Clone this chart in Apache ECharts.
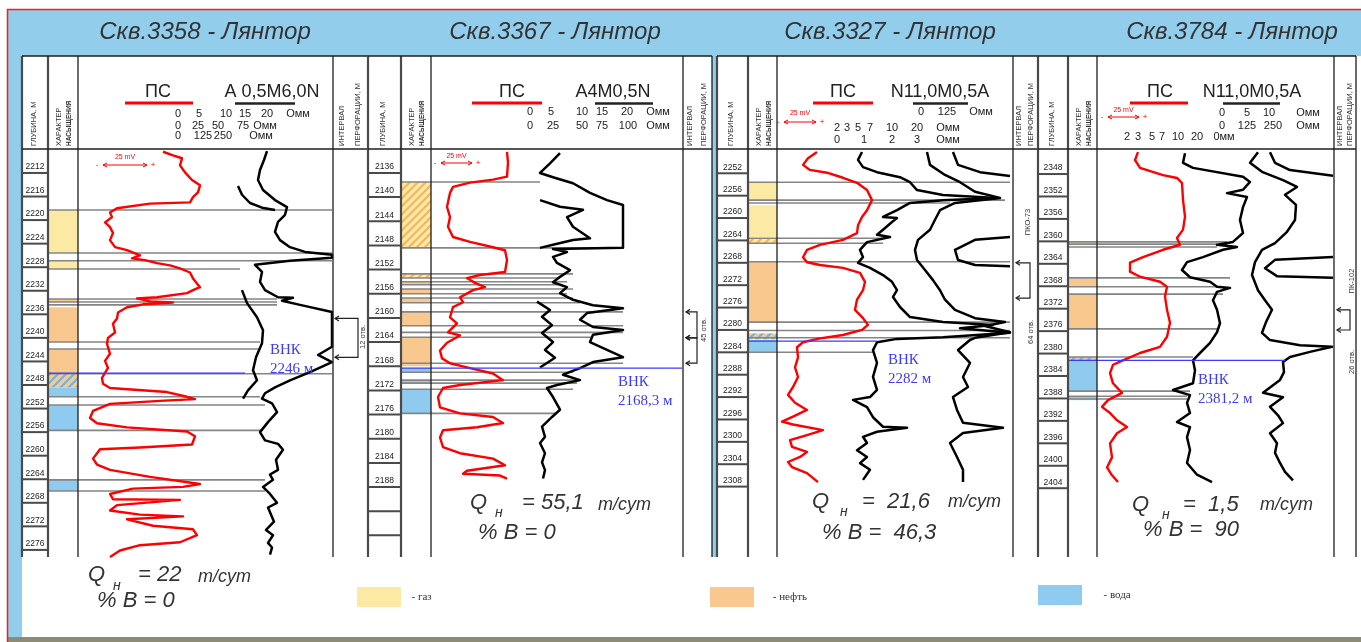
<!DOCTYPE html>
<html lang="ru">
<head>
<meta charset="utf-8">
<title>Лянтор — сопоставление скважин</title>
<script src="https://cdn.jsdelivr.net/npm/echarts@6.0.0/dist/echarts.min.js"></script>
<style>
html,body{margin:0;padding:0;background:#fff;}
#chart{width:1361px;height:642px;}
</style>
</head>
<body>
<div id="chart"></div>
<script>
// ===================== DATA =====================
const wellTitles = ['Скв.3358 - Лянтор', 'Скв.3367 - Лянтор', 'Скв.3327 - Лянтор', 'Скв.3784 - Лянтор'];
const probeNames = ['A 0,5M6,0N', 'A4M0,5N', 'N11,0M0,5A', 'N11,0M0,5A'];

// header scale labels of the resistivity probes
const scaleLabels3358 = [['0','5','10','15','20','Омм'], ['0','25','50','75','Омм'], ['0','125','250','Омм']];
const scaleLabels3367 = [['0','5','10','15','20','Омм'], ['0','25','50','75','100','Омм']];
const scaleLabels3327 = [['0','125','Омм'], ['2','3','5','7','10','20','Омм'], ['0','1','2','3','Омм']];
const scaleLabels3784 = [['0','5','10','Омм'], ['0','125','250','Омм'], ['2','3','5','7','10','20','0мм']];

// depth ticks, m
const depthTicks3358 = [2212,2216,2220,2224,2228,2232,2236,2240,2244,2248,2252,2256,2260,2264,2268,2272,2276];
const depthLabels3358 = ['2212','2216','2220','2224','2228','2232','2236','2240','2244','2248','2252','2256','2260','2264','2268','2272','2276'];
const depthTicks3367 = [2136,2140,2144,2148,2152,2156,2160,2164,2168,2172,2176,2180,2184,2188,2192,2196];
const depthLabels3367 = ['2136','2140','2144','2148','2152','2156','2160','2164','2168','2172','2176','2180','2184','2188','',''];
const depthTicks3327 = [2252,2256,2260,2264,2268,2272,2276,2280,2284,2288,2292,2296,2300,2304,2308];
const depthLabels3327 = ['2252','2256','2260','2264','2268','2272','2276','2280','2284','2288','2292','2296','2300','2304','2308'];
const depthTicks3784 = [2348,2352,2356,2360,2364,2368,2372,2376,2380,2384,2388,2392,2396,2400,2404];
const depthLabels3784 = ['2348','2352','2356','2360','2364','2368','2372','2376','2380','2384','2388','2392','2396','2400','2404'];

// ПС curves: [mV from track edge, depth m]
const ps3358 = [[85,2208.4],[95,2209.0],[104,2209.5],[102,2210.7],[107,2211.9],[114,2213.2],[122,2214.1],[120,2215.3],[115,2216.1],[112,2217.0],[72,2217.2],[39,2218.0],[32,2218.7],[34,2219.5],[27,2220.4],[32,2221.2],[35,2222.2],[32,2223.4],[37,2224.6],[49,2225.1],[62,2226.0],[54,2226.5],[67,2226.8],[79,2227.3],[92,2227.7],[102,2228.2],[112,2228.9],[115,2229.9],[122,2231.4],[115,2231.9],[109,2232.4],[79,2233.1],[59,2233.3],[72,2233.8],[95,2234.0],[65,2234.3],[49,2234.8],[40,2235.7],[39,2236.7],[35,2237.6],[37,2239.1],[30,2240.0],[29,2241.0],[32,2242.7],[27,2243.9],[30,2245.1],[24,2246.8],[25,2247.8],[32,2248.5],[89,2249.2],[109,2250.0],[117,2250.4],[82,2250.7],[32,2251.2],[15,2252.4],[12,2253.6],[19,2254.5],[49,2255.2],[109,2255.9],[117,2256.7],[114,2258.1],[62,2258.6],[22,2258.9],[15,2260.5],[19,2261.5],[32,2262.4],[72,2263.6],[122,2264.8],[105,2265.3],[55,2265.6],[32,2266.5],[35,2267.4],[102,2267.5],[39,2268.4],[32,2269.3],[62,2270.0],[105,2270.3],[49,2270.8],[75,2271.9],[115,2272.5],[119,2273.5],[102,2274.7],[62,2275.2],[42,2276.1],[32,2277.2]];
const ps3367 = [[76,2132.5],[77,2134.3],[76,2136.6],[62,2137.1],[39,2137.6],[22,2138.3],[19,2139.3],[16,2141.6],[19,2143.3],[17,2144.9],[22,2146.6],[39,2147.4],[62,2148.3],[74,2148.8],[76,2150.4],[74,2152.4],[49,2152.9],[36,2153.4],[44,2154.2],[54,2154.9],[42,2155.4],[29,2156.6],[32,2157.4],[22,2158.2],[19,2159.9],[26,2160.9],[17,2162.4],[29,2162.9],[16,2164.1],[9,2165.4],[11,2166.7],[19,2167.5],[39,2168.3],[62,2169.2],[72,2170.3],[29,2171.1],[12,2171.6],[7,2173.1],[9,2174.8],[29,2175.8],[62,2176.4],[72,2177.4],[46,2178.1],[12,2178.6],[9,2179.8],[12,2181.4],[29,2182.4],[62,2183.3],[74,2184.4],[36,2185.3],[32,2185.8],[69,2186.1],[76,2186.6]];
const ps3327 = [[40,2248.2],[31,2249.3],[26,2250.5],[33,2251.4],[50,2251.9],[66,2252.8],[80,2253.7],[90,2255.0],[95,2256.8],[90,2258.6],[85,2259.8],[81,2261.3],[80,2262.7],[66,2263.9],[43,2264.8],[30,2265.7],[26,2267.0],[30,2267.9],[43,2268.4],[66,2268.9],[83,2269.8],[88,2271.4],[86,2272.9],[80,2274.6],[78,2276.4],[86,2277.9],[91,2279.1],[85,2280.0],[66,2280.9],[43,2281.5],[26,2282.2],[20,2283.1],[21,2284.9],[18,2286.7],[21,2288.4],[16,2290.2],[11,2291.6],[18,2293.0],[30,2294.3],[16,2295.5],[5,2296.4],[16,2296.9],[46,2297.9],[30,2298.8],[13,2299.7],[15,2300.9],[30,2301.8],[23,2302.7],[11,2303.6],[15,2304.5],[30,2305.6],[41,2307.2]];
const ps3784 = [[41,2344.1],[38,2345.5],[43,2346.9],[66,2348.2],[80,2348.7],[85,2349.6],[86,2352.6],[88,2355.6],[86,2357.9],[80,2359.4],[83,2360.6],[66,2361.5],[46,2362.8],[33,2363.8],[33,2365.4],[43,2366.3],[63,2367.2],[70,2368.1],[68,2369.8],[70,2372.2],[73,2374.5],[70,2377.0],[63,2378.8],[43,2379.9],[26,2381.2],[16,2382.0],[13,2383.5],[16,2385.3],[25,2387.0],[11,2388.3],[5,2389.5],[13,2390.6],[20,2391.9],[30,2393.1],[20,2394.2],[13,2396.0],[15,2398.5],[10,2400.3],[15,2401.7],[21,2402.9]];

// resistivity curves: [Ohm·m, depth m]; null breaks a curve
const res3358a = [[7.4,2208.3],[6.8,2209.8],[6.0,2211.5],[5.6,2213.2],[6.6,2214.9],[9.0,2216.6],[11.4,2217.8],[11.0,2219.1],[9.6,2220.3],[9.0,2222.0],[10.0,2223.4],[12.0,2224.6],[15.0,2225.4],[20.4,2225.9],[20.4,2226.4],[12.0,2226.9],[5.0,2227.6],[6.4,2228.8],[6.0,2230.5],[7.0,2231.9],[9.6,2233.1],[12.6,2233.2],[10.4,2233.7],[14.0,2234.4],[20.4,2235.6],[20.4,2241.5],[17.6,2242.9],[20.4,2244.1],[16.0,2245.8],[12.0,2247.2],[9.0,2248.4],[7.0,2249.4],[6.4,2250.3],[8.4,2251.1],[9.4,2252.6],[7.6,2254.3],[6.0,2256.0],[7.0,2257.4],[9.6,2258.0],[10.6,2259.0],[9.2,2260.7],[9.6,2262.4],[8.0,2263.2],[8.6,2264.1],[6.6,2265.3],[8.0,2266.5],[9.4,2268.0],[7.6,2268.8],[8.0,2269.6],[8.8,2271.2],[7.2,2272.6],[8.6,2273.5],[7.6,2274.8],[8.4,2275.6],[8.0,2276.8]];
const res3358b = [[1.6,2214.2],[2.4,2215.7],[4.0,2217.1],[6.4,2217.9],[9.0,2218.3],null,[2.4,2231.9],[3.4,2234.1],[5.4,2236.5],[6.6,2238.7],[6.4,2240.9],[5.2,2243.3],[4.6,2245.5],[5.4,2247.2],[3.6,2248.9],[2.6,2250.3]];
const res3367a = [[6.0,2132.7],[4.0,2134.4],[2.0,2136.0],[4.6,2136.7],[8.6,2137.7],[12.0,2139.3],[15.4,2140.5],[18.6,2141.3],[18.6,2148.4],[4.6,2148.6],[7.4,2149.1],[4.6,2149.9],[5.4,2150.9],[8.0,2152.1],[6.0,2153.2],[4.6,2154.1],[7.4,2154.9],[6.0,2155.9],[8.6,2157.0],[12.6,2157.9],[18.6,2158.4],[11.4,2159.2],[10.0,2160.3],[12.6,2161.5],[18.6,2162.0],[12.6,2162.8],[12.0,2164.0],[15.4,2165.3],[18.6,2166.5],[12.6,2167.3],[10.0,2168.3],[6.6,2169.4],[10.0,2170.3],[5.4,2171.1],[3.4,2171.6],[4.6,2173.1],[6.0,2175.2],[4.4,2176.4],[2.4,2178.0],[3.0,2179.7],[2.0,2180.7],[3.0,2182.4],[2.4,2183.9],[3.0,2185.2],[2.6,2186.6]];
const res3367b = [[2.0,2140.5],[6.0,2141.6],[10.6,2142.1],[7.4,2143.3],[8.6,2144.9],[12.0,2146.8],[8.6,2147.1],[4.6,2147.9],[2.0,2148.4],null,[1.4,2157.3],[4.0,2158.7],[2.4,2159.8],[4.4,2161.2],[2.4,2162.5],[4.6,2164.0],[3.0,2165.3],[5.0,2166.6],[2.0,2168.2]];
const res3327a = [[2.4,2248.2],[1.6,2249.6],[2.6,2250.9],[5.4,2251.8],[10.0,2252.7],[12.0,2253.6],[13.4,2255.0],[18.6,2255.9],[29.4,2256.4],[18.6,2256.8],[12.0,2257.3],[9.4,2258.6],[6.6,2259.8],[9.4,2260.0],[8.4,2260.7],[6.6,2262.1],[5.4,2263.0],[8.0,2263.4],[3.4,2264.3],[2.0,2265.7],[2.6,2267.0],[1.6,2268.0],[4.0,2268.9],[6.6,2270.2],[8.4,2271.4],[9.4,2272.9],[8.6,2274.1],[10.0,2275.9],[12.0,2277.7],[18.6,2278.6],[28.6,2279.1],[22.0,2279.7],[32.0,2280.5],[18.6,2281.3],[9.4,2281.6],[5.4,2282.2],[4.6,2283.6],[5.4,2285.9],[4.6,2288.4],[5.4,2290.7],[4.0,2292.0],[0.6,2292.5],[3.4,2293.8],[4.6,2295.6],[6.6,2297.3],[11.4,2297.5],[5.4,2298.2],[2.6,2299.1],[3.4,2300.2],[1.4,2301.5],[3.4,2302.7],[2.0,2303.8],[4.0,2305.0],[2.6,2306.8]];
const res3327b = [[15.4,2248.2],[16.0,2250.5],[19.0,2252.3],[22.0,2253.6],[25.0,2255.3],[30.0,2256.4],[21.0,2257.3],[18.0,2258.6],[17.0,2260.3],[16.0,2262.1],[13.6,2263.9],[13.0,2265.7],[13.4,2267.5],[15.0,2269.3],[16.6,2271.1],[18.0,2272.9],[19.0,2274.6],[21.0,2276.4],[25.0,2277.9],[31.0,2278.6],[27.0,2279.3],[32.0,2280.4],[25.0,2281.4],[24.0,2281.8],[21.6,2283.6],[24.0,2285.9],[22.6,2288.4],[23.6,2290.2],[20.6,2292.0],[21.4,2294.3],[22.6,2296.6],[30.6,2297.5],[22.6,2298.4],[20.0,2300.2],[21.4,2302.7],[22.6,2305.0],[22.6,2307.2]];
const res3327c = [[20.6,2248.2],[21.6,2250.5],[26.0,2251.8],[32.0,2252.5],null,[32.0,2263.4],[25.0,2263.9],[21.0,2265.7],[21.6,2267.5],[25.0,2268.4],[32.0,2268.6]];
const res3784a = [[3.0,2344.3],[2.6,2346.0],[4.6,2346.9],[14.6,2348.5],[16.0,2349.4],[14.6,2350.8],[11.4,2351.4],[15.4,2352.1],[14.6,2353.9],[14.0,2356.2],[14.6,2358.5],[12.6,2360.1],[9.4,2360.6],[13.4,2361.0],[10.6,2361.5],[6.6,2362.8],[3.4,2363.7],[2.4,2365.1],[4.0,2366.4],[8.0,2367.2],[9.4,2368.1],[12.0,2368.3],[9.4,2369.0],[8.6,2370.5],[9.4,2372.2],[10.0,2374.6],[9.4,2376.2],[8.0,2378.1],[6.0,2379.9],[4.6,2381.2],[5.0,2383.0],[4.6,2385.3],[0.6,2386.5],[4.0,2387.4],[3.4,2388.8],[4.0,2390.6],[1.4,2392.2],[4.0,2393.1],[3.4,2394.9],[4.0,2397.2],[3.4,2399.5],[5.4,2401.6],[8.4,2402.9]];
const res3784b = [[17.6,2344.1],[16.0,2346.0],[18.4,2347.6],[22.6,2349.1],[25.4,2350.3],[23.0,2351.7],[25.2,2353.5],[25.0,2356.2],[23.4,2358.3],[21.0,2360.3],[18.4,2361.5],[17.0,2363.7],[16.4,2366.0],[17.6,2368.7],[19.0,2370.5],[20.4,2372.2],[19.2,2374.4],[18.4,2376.3],[20.0,2377.6],[26.0,2378.5],[32.4,2378.8],[28.0,2379.7],[24.0,2380.6],[22.6,2381.5],[22.8,2383.3],[22.0,2384.7],[18.6,2387.0],[22.6,2387.8],[20.0,2389.5],[21.6,2391.0],[22.6,2392.4],[20.0,2394.2],[21.4,2396.0],[21.0,2397.7],[22.0,2399.5],[23.0,2401.1],[24.6,2402.6]];
const res3784c = [[20.0,2344.1],[21.0,2346.0],[24.0,2347.3],[32.6,2348.3],null,[32.6,2362.8],[21.0,2363.3],[19.0,2364.8],[21.4,2366.2],[32.6,2366.5]];

// saturation intervals: [top, bottom], m
const gas3358 = [[2218.3,2225.6],[2226.9,2228.3]];
const oil3358 = [[2233.4,2233.9],[2234.8,2240.7],[2241.9,2246.1]];
const oilWater3358 = [[2246.1,2248.4]];
const water3358 = [[2248.4,2250.0],[2251.4,2255.7],[2264.1,2266.0]];
const gasOil3367 = [[2137.5,2148.4],[2152.7,2153.4]];
const oil3367 = [[2154.0,2154.5],[2155.2,2156.0],[2156.7,2157.5],[2159.0,2161.3],[2163.2,2168.0]];
const water3367 = [[2168.3,2169.0],[2170.3,2170.8],[2171.8,2175.8]];
const gas3327 = [[2253.6,2256.8],[2257.7,2263.4]];
const gasOil3327 = [[2263.6,2264.5]];
const oil3327 = [[2267.8,2278.6]];
const oilWater3327 = [[2280.6,2281.7]];
const water3327 = [[2281.8,2284.0]];
const gas3784 = [[2360.1,2360.7]];
const oil3784 = [[2366.7,2368.1],[2369.4,2375.6]];
const oilWater3784 = [[2380.6,2381.2]];
const water3784 = [[2381.2,2386.7],[2387.6,2388.3]];

// layer boundaries: [depth m, resistivity reached, Ohm·m]
const bounds3358 = [[2218.3,20.4],[2225.6,20.4],[2226.9,20.4],[2228.3,2.0],[2233.4,9.4],[2233.9,9.4],[2234.4,9.4],[2240.7,6.0],[2241.9,6.0],[2246.1,20.4],[2250.0,6.0],[2251.4,7.0],[2255.7,6.4],[2264.1,7.0],[2266.0,7.0]];
const bounds3367 = [[2137.5,2.0],[2148.4,18.6],[2152.7,8.6],[2153.4,6.0],[2154.0,7.4],[2154.5,6.0],[2155.2,8.6],[2156.0,7.4],[2156.7,8.6],[2157.5,10.0],[2159.0,18.6],[2161.3,18.6],[2162.4,18.6],[2163.2,12.6],[2167.5,18.6],[2169.0,8.6],[2170.3,9.4],[2170.8,9.4],[2171.8,8.6],[2175.8,5.4]];
const bounds3327 = [[2253.6,32.0],[2256.8,31.0],[2257.3,20.0],[2263.6,6.6],[2264.5,6.6],[2267.8,32.0],[2278.6,32.0],[2280.1,32.0],[2281.4,32.0],[2284.0,4.6]];
const bounds3784 = [[2360.1,11.4],[2360.5,9.4],[2361.0,9.4],[2366.5,12.0],[2368.1,10.6],[2369.4,10.6],[2375.6,9.4],[2380.6,4.6],[2386.7,4.0],[2387.6,3.4],[2388.1,3.4]];

// water-oil contact, m, and the resistivity the contact line reaches
const owcDepth = [2246, 2168.3, 2282, 2381.2];
const owcReach = [3.0, 30.4, 5.4, 23.0];

// perforation intervals
const perf3358 = [[2236.7,2243.3]];
const perf3367 = [[2159.0,2163.3],[2163.3,2167.5]];
const perf3327 = [[2268.0,2274.3]];
const perf3784 = [[2372.2,2375.8]];
const perfShots = ['12 отв.', '45 отв.', '64 отв.', '26 отв.'];
const perfGun = ['', '', 'ПКО-73', 'ПК-102'];

// test results
const oilRate = ['22', '55,1', '21,6', '1,5'];
const waterCut = ['0', '0', '46,3', '90'];

const fluidNames = ['газ', 'нефть', 'вода'];

// ===================== LAYOUT =====================
const BOTTOM = 557, HEAD_TOP = 56, HEAD_BOT = 149;
const PX_PER_MV = 1, PX_PER_OHM = 5;
const BLUE = '#92cdec';
const FILL = { gas: '#fce9a3', oil: '#f9c88e', water: '#8ecbee' };
const SANS = '"Liberation Sans", Arial, sans-serif';
const SERIF = '"Liberation Serif", "Times New Roman", serif';

const LAYOUT = [
  { depth:[22,48], chr:[48,78], track:[78,333], perf:[333,368], top:149.4, dMin:2208, ppm:5.89, rZero:230,
    titleX:205, psX:158, psLine:[125,193], nameX:272, nameLine:[235,295],
    scaleY:[114,126,136], scaleX:[[178,199,226,245,267,298],[178,198,218,243,265],[178,203,223,261]],
    mv:{x0:97,x1:153,y:165,ty:157}, owcAt:[270,350], bracket:[335,358], shotsAt:[363,337], gunAt:null,
    q:{Q:[88,575], n:[113,586], eq:[138,575], unit:[198,577], wc:[97,601]} },
  { depth:[368,401], chr:[401,431], track:[431,683], perf:[683,712], top:148.8, dMin:2132, ppm:6.04, rZero:530,
    titleX:555, psX:512, psLine:[472,542], nameX:613, nameLine:[595,653],
    scaleY:[112,126], scaleX:[[530,551,582,602,627,658],[530,553,582,602,628,658]],
    mv:{x0:435,x1:478,y:163,ty:156}, owcAt:[618,382], bracket:[686,697], shotsAt:[704,330], gunAt:null,
    q:{Q:[470,503], n:[495,513], eq:[522,503], unit:[598,505], wc:[478,533]} },
  { depth:[717,748], chr:[748,777], track:[777,1013], perf:[1013,1038], top:150.9, dMin:2248, ppm:5.595, rZero:850,
    titleX:890, psX:843, psLine:[813,873], nameX:940, nameLine:[913,968],
    scaleY:[112,128,140], scaleX:[[921,947,981],[837,847,858,870,892,917,948],[837,864,892,917,948]],
    mv:{x0:778,x1:822,y:122,ty:113}, owcAt:[888,360], bracket:[1016,1030], shotsAt:[1031,332], gunAt:[1028,222],
    q:{Q:[812,502], n:[840,512], eq:[862,502], unit:[948,502], wc:[822,533]} },
  { depth:[1038,1068], chr:[1068,1097], track:[1097,1334], perf:[1334,1356], top:151.6, dMin:2344, ppm:5.61, rZero:1170,
    titleX:1232, psX:1160, psLine:[1130,1188], nameX:1252, nameLine:[1223,1280],
    scaleY:[113,126,137], scaleX:[[1222,1247,1269,1308],[1222,1247,1273,1308],[1127,1138,1152,1162,1178,1197,1224]],
    mv:{x0:1102,x1:1145,y:117,ty:110}, owcAt:[1198,380], bracket:[1337,1350], shotsAt:[1352,362], gunAt:[1352,281],
    q:{Q:[1132,505], n:[1162,515], eq:[1183,505], unit:[1260,505], wc:[1143,530]} }
];

const WELLS = [
  { ps:ps3358, res:[res3358a,res3358b], gas:gas3358, gasOil:[], oil:oil3358, oilWater:oilWater3358, water:water3358,
    bounds:bounds3358, ticks:depthTicks3358, labels:depthLabels3358, perf:perf3358, scale:scaleLabels3358 },
  { ps:ps3367, res:[res3367a,res3367b], gas:[], gasOil:gasOil3367, oil:oil3367, oilWater:[], water:water3367,
    bounds:bounds3367, ticks:depthTicks3367, labels:depthLabels3367, perf:perf3367, scale:scaleLabels3367 },
  { ps:ps3327, res:[res3327a,res3327b,res3327c], gas:gas3327, gasOil:gasOil3327, oil:oil3327, oilWater:oilWater3327, water:water3327,
    bounds:bounds3327, ticks:depthTicks3327, labels:depthLabels3327, perf:perf3327, scale:scaleLabels3327 },
  { ps:ps3784, res:[res3784a,res3784b,res3784c], gas:gas3784, gasOil:[], oil:oil3784, oilWater:oilWater3784, water:water3784,
    bounds:bounds3784, ticks:depthTicks3784, labels:depthLabels3784, perf:perf3784, scale:scaleLabels3784 }
];

// ===================== HELPERS =====================
function hatch(bg, fg) {
  const c = document.createElement('canvas');
  c.width = 8; c.height = 8;
  const g = c.getContext('2d');
  g.fillStyle = bg; g.fillRect(0, 0, 8, 8);
  g.strokeStyle = fg; g.lineWidth = 2.2;
  g.beginPath();
  g.moveTo(-2, 10); g.lineTo(10, -2);
  g.moveTo(-2, 2); g.lineTo(2, -2);
  g.moveTo(6, 10); g.lineTo(10, 6);
  g.stroke();
  return c;
}
const PATTERN = {
  gasOil: { image: hatch(FILL.gas, '#f5b566'), repeat: 'repeat' },
  oilWater: { image: hatch(FILL.oil, '#6fb4e4'), repeat: 'repeat' }
};
const fmtNum = v => String(v).replace('.', ',');
function splitNull(arr) {
  const out = [[]];
  arr.forEach(p => { if (p === null) out.push([]); else out[out.length - 1].push(p); });
  return out.filter(s => s.length > 1);
}
function txt(x, y, text, font, fill, align, vAlign, extra) {
  return Object.assign({ type: 'text', x, y, silent: true, z: 20,
    style: { text, font, fill, align, textAlign: align, verticalAlign: vAlign, textVerticalAlign: vAlign } }, extra || {});
}
function seg(x1, y1, x2, y2, stroke, w, z) {
  return { type: 'line', silent: true, z: z == null ? 15 : z, shape: { x1, y1, x2, y2 }, style: { stroke, lineWidth: w } };
}

// ===================== OPTION =====================
const grid = [], xAxis = [], yAxis = [], series = [], gfx = [];

// page background
gfx.push({ type: 'rect', z: 0, silent: true, shape: { x: 7, y: 9, width: 1354, height: HEAD_TOP - 9 }, style: { fill: BLUE } });
gfx.push({ type: 'rect', z: 0, silent: true, shape: { x: 7, y: 9, width: 15, height: 629 }, style: { fill: BLUE } });
gfx.push({ type: 'rect', z: 0, silent: true, shape: { x: 712, y: HEAD_TOP, width: 5, height: BOTTOM - HEAD_TOP }, style: { fill: BLUE } });
gfx.push({ type: 'rect', z: 0, silent: true, shape: { x: 7, y: 637, width: 1354, height: 5 }, style: { fill: '#8b8b76' } });
gfx.push({ type: 'rect', z: 30, silent: true, shape: { x: 7.5, y: 9.5, width: 1360, height: 640 }, style: { fill: 'none', stroke: '#ff1a1a', lineWidth: 1.5 } });

LAYOUT.forEach((L, i) => {
  const W = WELLS[i];
  const H = BOTTOM - L.top;
  const dMax = L.dMin + H / L.ppm;

  const addGrid = (x0, x1) => { grid.push({ left: x0, top: L.top, width: x1 - x0, height: H }); return grid.length - 1; };
  const addX = (g, min, max) => { xAxis.push({ gridIndex: g, type: 'value', min, max, show: false }); return xAxis.length - 1; };
  const addY = g => { yAxis.push({ gridIndex: g, type: 'value', inverse: true, min: L.dMin, max: dMax, show: false }); return yAxis.length - 1; };

  // depth column
  const gD = addGrid(L.depth[0], L.depth[1]);
  const xD = addX(gD, 0, 1), yD = addY(gD);
  series.push({
    type: 'custom', xAxisIndex: xD, yAxisIndex: yD, silent: true, z: 6,
    data: W.ticks.map(d => [0, d]), encode: { x: 0, y: 1 },
    renderItem: (params, api) => {
      const cs = params.coordSys;
      const y = api.coord([0, api.value(1)])[1];
      return { type: 'group', children: [
        { type: 'line', shape: { x1: cs.x, y1: y, x2: cs.x + cs.width, y2: y }, style: { stroke: '#4a4a4a', lineWidth: 2 } },
        { type: 'text', x: cs.x + cs.width / 2, y: y - 1.5,
          style: { text: W.labels[params.dataIndex], fill: '#222', font: '8.5px ' + SANS, align: 'center', textAlign: 'center', verticalAlign: 'bottom', textVerticalAlign: 'bottom' } }
      ] };
    }
  });

  // saturation column
  const gC = addGrid(L.chr[0], L.chr[1]);
  const xC = addX(gC, 0, 1), yC = addY(gC);
  const band = (name, list, fill, legendColor) => ({
    type: 'custom', name, xAxisIndex: xC, yAxisIndex: yC, silent: true, z: 1,
    itemStyle: { color: legendColor },
    data: list.map(iv => [0, iv[0], iv[1]]), encode: { x: 0, y: [1, 2] },
    renderItem: (params, api) => {
      const cs = params.coordSys;
      const y0 = api.coord([0, api.value(1)])[1], y1 = api.coord([0, api.value(2)])[1];
      return { type: 'rect', shape: { x: cs.x, y: y0, width: cs.width, height: y1 - y0 }, style: { fill } };
    }
  });
  series.push(band(fluidNames[0], W.gas, FILL.gas, FILL.gas));
  series.push(band(fluidNames[1], W.oil, FILL.oil, FILL.oil));
  series.push(band(fluidNames[2], W.water, FILL.water, FILL.water));
  series.push(band('газ-нефть', W.gasOil, PATTERN.gasOil, FILL.gas));
  series.push(band('нефть-вода', W.oilWater, PATTERN.oilWater, FILL.oil));

  // curve track (spans from the saturation column so boundaries start there)
  const gT = addGrid(L.chr[0], L.track[1]);
  const xPS = addX(gT, (L.chr[0] - L.track[0]) / PX_PER_MV, (L.track[1] - L.track[0]) / PX_PER_MV);
  const xR = addX(gT, (L.chr[0] - L.rZero) / PX_PER_OHM, (L.track[1] - L.rZero) / PX_PER_OHM);
  const yT = addY(gT);

  // layer boundaries
  series.push({
    type: 'custom', xAxisIndex: xR, yAxisIndex: yT, silent: true, z: 3,
    data: W.bounds.map(b => [b[1], b[0]]), encode: { x: 0, y: 1 },
    renderItem: (params, api) => {
      const cs = params.coordSys;
      const p = api.coord([api.value(0), api.value(1)]);
      return { type: 'line', shape: { x1: cs.x, y1: p[1], x2: p[0], y2: p[1] }, style: { stroke: '#858585', lineWidth: 1.6 } };
    }
  });

  // curves
  series.push({ type: 'line', xAxisIndex: xPS, yAxisIndex: yT, data: W.ps, showSymbol: false, symbol: 'none', silent: true, z: 4,
    lineStyle: { color: '#ff0000', width: 2.4, join: 'round' } });
  W.res.forEach(curve => splitNull(curve).forEach(part => {
    series.push({ type: 'line', xAxisIndex: xR, yAxisIndex: yT, data: part, showSymbol: false, symbol: 'none', silent: true, z: 4,
      lineStyle: { color: '#000000', width: 2.5, join: 'round' } });
  }));

  // water-oil contact
  series.push({
    type: 'custom', xAxisIndex: xR, yAxisIndex: yT, silent: true, z: 5,
    data: [[owcReach[i], owcDepth[i]]], encode: { x: 0, y: 1 },
    renderItem: (params, api) => {
      const cs = params.coordSys;
      const p = api.coord([api.value(0), api.value(1)]);
      return { type: 'group', children: [
        { type: 'line', shape: { x1: cs.x, y1: p[1], x2: p[0], y2: p[1] }, style: { stroke: '#3a3aff', lineWidth: 1.3 } },
        { type: 'text', x: L.owcAt[0], y: L.owcAt[1] - 9.5,
          style: { text: 'ВНК\n' + fmtNum(owcDepth[i]) + ' м', fill: '#3c3cf5', font: '15px ' + SERIF, lineHeight: 19,
            align: 'left', textAlign: 'left', verticalAlign: 'top', textVerticalAlign: 'top' } }
      ] };
    }
  });

  // perforation brackets in the interval column
  series.push({
    type: 'custom', xAxisIndex: xR, yAxisIndex: yT, silent: true, z: 6,
    data: W.perf.map(p => [0, p[0], p[1]]), encode: { x: 0, y: [1, 2] },
    renderItem: (params, api) => {
      const y0 = api.coord([0, api.value(1)])[1], y1 = api.coord([0, api.value(2)])[1];
      const a = L.bracket[0], b = L.bracket[1];
      const st = { stroke: '#222', lineWidth: 1.2, fill: 'none' };
      return { type: 'group', children: [
        { type: 'polyline', shape: { points: [[a, y0], [b, y0], [b, y1], [a, y1]] }, style: st },
        { type: 'polyline', shape: { points: [[a + 4, y0 - 2.5], [a, y0], [a + 4, y0 + 2.5]] }, style: st },
        { type: 'polyline', shape: { points: [[a + 4, y1 - 2.5], [a, y1], [a + 4, y1 + 2.5]] }, style: st }
      ] };
    }
  });

  // ---- frame ----
  const xs = [L.depth[0], L.depth[1], L.chr[1], L.track[1], L.perf[1]];
  xs.forEach((x, k) => {
    const dep = (k <= 1);
    gfx.push(seg(x, HEAD_TOP, x, BOTTOM, dep ? '#4a4a4a' : '#1e1e1e', dep ? 2.2 : 1.3));
  });
  gfx.push(seg(L.depth[0], HEAD_TOP, L.perf[1], HEAD_TOP, '#1e1e1e', 1.5));
  gfx.push(seg(L.depth[0], HEAD_BOT, L.perf[1], HEAD_BOT, '#1e1e1e', 1.5));

  // ---- titles & header ----
  gfx.push(txt(L.titleX, 32, wellTitles[i], 'italic 24px ' + SANS, '#333', 'center', 'middle'));
  const rot = { rotation: Math.PI / 2 };
  const dw = L.depth[1] - L.depth[0], cw = L.chr[1] - L.chr[0], pw = L.perf[1] - L.perf[0];
  gfx.push(txt(L.depth[0] + dw * 0.45, 146, 'ГЛУБИНА, М', '7.5px ' + SANS, '#333', 'left', 'middle', rot));
  gfx.push(txt(L.chr[0] + cw * 0.36, 146, 'ХАРАКТЕР', '7.5px ' + SANS, '#333', 'left', 'middle', rot));
  gfx.push(txt(L.chr[0] + cw * 0.72, 146, 'НАСЫЩЕНИЯ', 'bold 6.5px ' + SANS, '#333', 'left', 'middle', rot));
  gfx.push(txt(L.perf[0] + pw * 0.25, 146, 'ИНТЕРВАЛ', '7.5px ' + SANS, '#333', 'left', 'middle', rot));
  gfx.push(txt(L.perf[0] + pw * 0.72, 146, 'ПЕРФОРАЦИИ, М', '7.5px ' + SANS, '#333', 'left', 'middle', rot));

  gfx.push(txt(L.psX, 92, 'ПС', '18px ' + SANS, '#222', 'center', 'middle'));
  gfx.push(seg(L.psLine[0], 103, L.psLine[1], 103, '#ff0000', 3, 16));
  gfx.push(txt(L.nameX, 92, probeNames[i], '18px ' + SANS, '#222', 'center', 'middle'));
  gfx.push(seg(L.nameLine[0], 103.5, L.nameLine[1], 103.5, '#222', 2.5, 16));
  W.scale.forEach((row, r) => row.forEach((lab, k) => {
    gfx.push(txt(L.scaleX[r][k], L.scaleY[r], lab, '11px ' + SANS, '#222', 'center', 'middle'));
  }));

  // 25 mV scale mark
  const m = L.mv;
  gfx.push(txt((m.x0 + m.x1) / 2, m.ty, '25 mV', '7px ' + SANS, '#ff0000', 'center', 'middle'));
  gfx.push(txt(m.x0, m.y, '-', '8px ' + SANS, '#ff0000', 'center', 'middle'));
  gfx.push(txt(m.x1, m.y, '+', '8px ' + SANS, '#ff0000', 'center', 'middle'));
  gfx.push(seg(m.x0 + 6, m.y, m.x1 - 6, m.y, '#ff0000', 1, 16));
  gfx.push({ type: 'polyline', silent: true, z: 16, shape: { points: [[m.x0 + 10, m.y - 2], [m.x0 + 6, m.y], [m.x0 + 10, m.y + 2]] }, style: { stroke: '#ff0000', lineWidth: 1, fill: 'none' } });
  gfx.push({ type: 'polyline', silent: true, z: 16, shape: { points: [[m.x1 - 10, m.y - 2], [m.x1 - 6, m.y], [m.x1 - 10, m.y + 2]] }, style: { stroke: '#ff0000', lineWidth: 1, fill: 'none' } });

  // perforation notes
  gfx.push(txt(L.shotsAt[0], L.shotsAt[1], perfShots[i], '7.5px ' + SANS, '#333', 'center', 'middle', rot));
  if (L.gunAt && perfGun[i]) gfx.push(txt(L.gunAt[0], L.gunAt[1], perfGun[i], '7.5px ' + SANS, '#333', 'center', 'middle', rot));

  // test results
  const q = L.q, qf = 'italic 22px ' + SANS;
  gfx.push(txt(q.Q[0], q.Q[1], 'Q', qf, '#333', 'left', 'middle'));
  gfx.push(txt(q.n[0], q.n[1], 'н', 'italic 14px ' + SANS, '#333', 'left', 'middle'));
  gfx.push(txt(q.eq[0], q.eq[1], (i >= 2 ? '=  ' : '= ') + oilRate[i], qf, '#333', 'left', 'middle'));
  gfx.push(txt(q.unit[0], q.unit[1], 'm/cym', 'italic 18px ' + SANS, '#333', 'left', 'middle'));
  gfx.push(txt(q.wc[0], q.wc[1], '% B = ' + (i >= 2 ? ' ' : '') + waterCut[i], qf, '#333', 'left', 'middle'));
});

const legendPos = [[357, 587, 2], [710, 587, 5], [1038, 585, 6]];
const legend = fluidNames.map((name, k) => ({
  data: [name], left: legendPos[k][0], top: legendPos[k][1], padding: 0, icon: 'rect',
  itemWidth: 44, itemHeight: 20, selectedMode: false,
  formatter: n => ' '.repeat(legendPos[k][2]) + '- ' + n,
  textStyle: { fontFamily: SERIF, fontSize: 11, color: '#333' }
}));

const chart = echarts.init(document.getElementById('chart'), null, { renderer: 'canvas' });
chart.setOption({
  animation: false,
  backgroundColor: '#ffffff',
  grid, xAxis, yAxis, series, legend,
  graphic: { elements: gfx }
});
</script>
</body>
</html>
